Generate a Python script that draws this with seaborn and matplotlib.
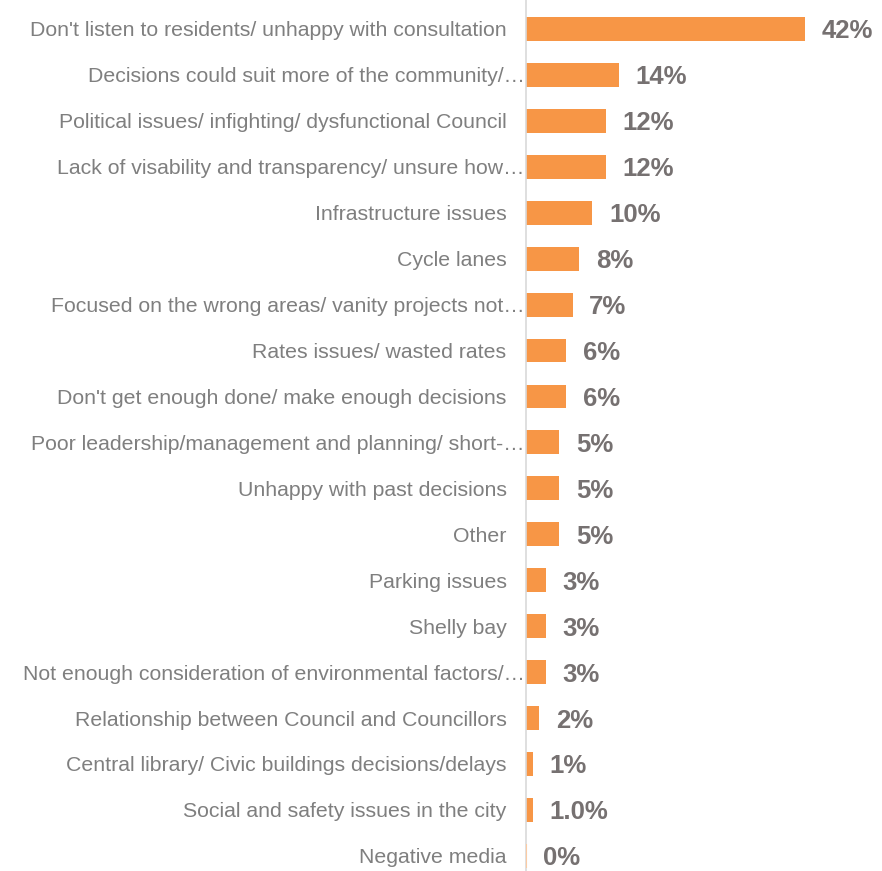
import matplotlib
matplotlib.use("Agg")
import matplotlib.pyplot as plt
import matplotlib.transforms as mtransforms
import seaborn as sns
import pandas as pd

categories = [
    "Don't listen to residents/ unhappy with consultation",
    "Decisions could suit more of the community/…",
    "Political issues/ infighting/ dysfunctional Council",
    "Lack of visability and transparency/ unsure how…",
    "Infrastructure issues",
    "Cycle lanes",
    "Focused on the wrong areas/ vanity projects not…",
    "Rates issues/ wasted rates",
    "Don't get enough done/ make enough decisions",
    "Poor leadership/management and planning/ short-…",
    "Unhappy with past decisions",
    "Other",
    "Parking issues",
    "Shelly bay",
    "Not enough consideration of environmental factors/…",
    "Relationship between Council and Councillors",
    "Central library/ Civic buildings decisions/delays",
    "Social and safety issues in the city",
    "Negative media",
]
values = [42, 14, 12, 12, 10, 8, 7, 6, 6, 5, 5, 5, 3, 3, 3, 2, 1, 1.0, 0]
decimals = [0, 0, 0, 0, 0, 0, 0, 0, 0, 0, 0, 0, 0, 0, 0, 0, 0, 1, 0]

df = pd.DataFrame({"category": categories, "value": values})

sns.set_theme(style="white")
plt.rcParams["font.family"] = ["Liberation Sans", "DejaVu Sans"]

W, H = 882, 871
fig = plt.figure(figsize=(W / 100, H / 100), dpi=100)
ax = fig.add_axes([526 / W, 0, 356 / W, 1])

bar_color = "#F79646"
sns.barplot(data=df, y="category", x="value", orient="h", color=bar_color,
            width=0.52, saturation=1, ax=ax)
for p in ax.patches:
    p.set_edgecolor("none")
# the zero-valued bar shows as a faint sliver at the axis
zero_bar = ax.patches[-1]
zero_bar.set_edgecolor("#FBCBA3")
zero_bar.set_linewidth(1.5)
zero_bar.set_zorder(3)

px_per_unit = 279 / 42
ax.set_xlim(0, 356 / px_per_unit)
ax.set_ylim(18.33, -0.631)

for i, (v, d) in enumerate(zip(values, decimals)):
    ax.annotate(f"{v:.{d}f}%", xy=(v, i), xytext=(12, 0), textcoords="offset points",
                ha="left", va="center_baseline", fontsize=18.5, fontweight="bold",
                color="#767171")

ax.set_xlabel("")
ax.set_ylabel("")
ax.set_xticks([])
ax.tick_params(axis="y", length=0, pad=14, labelsize=15.3, labelcolor="#7F7F7F")

# truncated category names run on up to the axis line
nudge = mtransforms.ScaledTranslation(18 / 100, 0, fig.dpi_scale_trans)
for lab in ax.get_yticklabels():
    if lab.get_text().endswith("…"):
        lab.set_transform(lab.get_transform() + nudge)

for s in ["top", "right", "bottom"]:
    ax.spines[s].set_visible(False)
ax.spines["left"].set_color("#D9D9D9")
ax.spines["left"].set_linewidth(1.2)

fig.savefig("out.png", dpi=100)
